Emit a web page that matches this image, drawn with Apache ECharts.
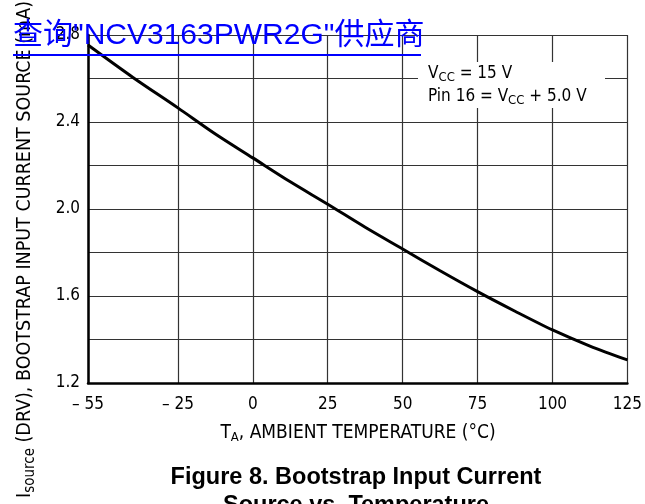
<!DOCTYPE html>
<html>
<head>
<meta charset="utf-8">
<script src="https://cdn.jsdelivr.net/npm/echarts@6/dist/echarts.min.js"></script>
<style>
html,body{margin:0;padding:0;background:#fff;}
#chart{width:645px;height:504px;}
</style>
</head>
<body>
<div id="chart"></div>
<script>
// Data
const temperatures = [-55, -40, -25, -12.5, 0, 12.5, 25, 37.5, 50, 62.5, 75, 87.5, 100, 112.5, 125];
const currents = [2.754, 2.605, 2.465, 2.345, 2.235, 2.125, 2.022, 1.916, 1.816, 1.716, 1.62, 1.53, 1.444, 1.37, 1.306];
const xTickValues = [-55, -25, 0, 25, 50, 75, 100, 125];
const yMin = 1.2, yMax = 2.8, yStep = 0.2;

const NARROW = '"Liberation Sans Narrow", "DejaVu Sans Condensed", "Liberation Sans", sans-serif';

const chart = echarts.init(document.getElementById('chart'), null, {renderer: 'canvas'});

const option = {
  backgroundColor: '#ffffff',
  animation: false,
  grid: {left: 88, right: 15, top: 35, bottom: 121, containLabel: false},
  xAxis: {
    type: 'value',
    min: -55,
    max: 125,
    axisLine: {show: true, onZero: false, lineStyle: {color: '#000', width: 2.5}},
    axisTick: {show: false, customValues: xTickValues},
    axisLabel: {
      customValues: xTickValues,
      margin: 13,
      color: '#000',
      fontFamily: NARROW,
      fontSize: 17,
      formatter: v => v < 0 ? '\u2013 ' + Math.abs(v) : String(v)
    },
    splitLine: {show: true, lineStyle: {color: '#333', width: 1.2}}
  },
  yAxis: {
    type: 'value',
    min: yMin,
    max: yMax,
    interval: yStep,
    axisLine: {show: true, onZero: false, lineStyle: {color: '#000', width: 2.5}},
    axisTick: {show: false},
    axisLabel: {
      margin: 8,
      color: '#000',
      fontFamily: NARROW,
      fontSize: 17,
      formatter: v => (Math.round(v * 10) % 4 === 0) ? v.toFixed(1) : ''
    },
    splitLine: {show: true, lineStyle: {color: '#333', width: 1.2}}
  },
  series: [{
    type: 'line',
    data: temperatures.map((t, i) => [t, currents[i]]),
    smooth: 0.3,
    showSymbol: false,
    lineStyle: {color: '#000', width: 3},
    z: 3
  }],
  graphic: [
    {
      type: 'rect', z: 10,
      shape: {x: 418, y: 62, width: 187, height: 46},
      style: {fill: '#fff'}
    },
    {
      type: 'text', z: 11, x: 428, y: 74,
      style: {
        text: '{a|V}{s|CC}{a| = 15 V}',
        verticalAlign: 'middle',
        rich: {
          a: {fontFamily: NARROW, fontSize: 17, fill: '#000'},
          s: {fontFamily: NARROW, fontSize: 13, fill: '#000', padding: [8, 0, 0, 0]}
        }
      }
    },
    {
      type: 'text', z: 11, x: 428, y: 97,
      style: {
        text: '{a|Pin 16 = V}{s|CC}{a| + 5.0 V}',
        verticalAlign: 'middle',
        rich: {
          a: {fontFamily: NARROW, fontSize: 17, fill: '#000'},
          s: {fontFamily: NARROW, fontSize: 13, fill: '#000', padding: [8, 0, 0, 0]}
        }
      }
    },
    {
      type: 'text', z: 11, x: 358, y: 433,
      style: {
        text: '{a|T}{s|A}{a|, AMBIENT TEMPERATURE (°C)}',
        align: 'center', verticalAlign: 'middle',
        rich: {
          a: {fontFamily: NARROW, fontSize: 19, fill: '#000'},
          s: {fontFamily: NARROW, fontSize: 13, fill: '#000', padding: [10, 0, 0, 0]}
        }
      }
    },
    {
      type: 'text', z: 11, x: 25, y: 498, rotation: Math.PI / 2,
      style: {
        text: '{a|I}{s|source}{a| (DRV), BOOTSTRAP INPUT CURRENT SOURCE (mA)}',
        align: 'left', verticalAlign: 'middle',
        rich: {
          a: {fontFamily: NARROW, fontSize: 19.5, fill: '#000'},
          s: {fontFamily: NARROW, fontSize: 15, fill: '#000', padding: [10, 0, 0, 0]}
        }
      }
    },
    {
      type: 'text', z: 11, x: 356, y: 478,
      style: {
        text: 'Figure 8. Bootstrap Input Current',
        align: 'center', verticalAlign: 'middle',
        fontFamily: '"Liberation Sans", Arial, sans-serif',
        fontWeight: 'bold', fontSize: 23.5, fill: '#000'
      }
    },
    {
      type: 'text', z: 11, x: 356, y: 506,
      style: {
        text: 'Source vs. Temperature',
        align: 'center', verticalAlign: 'middle',
        fontFamily: '"Liberation Sans", Arial, sans-serif',
        fontWeight: 'bold', fontSize: 23.5, fill: '#000'
      }
    },
    {
      type: 'text', z: 20, x: 13, y: 36,
      style: {
        text: '查询"NCV3163PWR2G"供应商',
        align: 'left', verticalAlign: 'middle',
        fontFamily: '"Liberation Sans", "Noto Sans CJK SC", sans-serif',
        fontSize: 30, fill: '#0000ff'
      }
    },
    {
      type: 'line', z: 20,
      shape: {x1: 13, y1: 55, x2: 421, y2: 55},
      style: {stroke: '#0000ff', lineWidth: 2}
    }
  ]
};
chart.setOption(option);
</script>
</body>
</html>
